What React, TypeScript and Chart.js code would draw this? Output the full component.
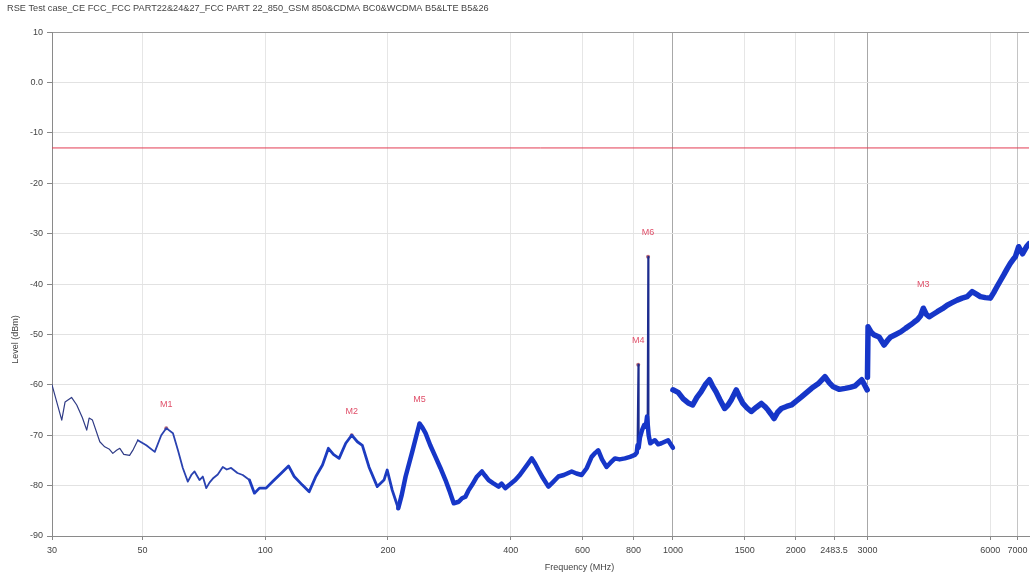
import React, { useEffect, useRef } from 'react';
import { Chart, registerables } from 'chart.js';

Chart.register(...registerables);

const chartTitle = 'RSE Test case_CE FCC_FCC PART22&24&27_FCC PART 22_850_GSM 850&CDMA BC0&WCDMA B5&LTE B5&26';
const xAxisTitle = 'Frequency (MHz)';
const yAxisTitle = 'Level (dBm)';

const xTickValues = [30, 50, 100, 200, 400, 600, 800, 1000, 1500, 2000, 2483.5, 3000, 6000, 7000];
const xTickLabels = ['30', '50', '100', '200', '400', '600', '800', '1000', '1500', '2000', '2483.5', '3000', '6000', '7000'];
const yTickValues = [10, 0, -10, -20, -30, -40, -50, -60, -70, -80, -90];
const yTickLabels = ['10', '0.0', '-10', '-20', '-30', '-40', '-50', '-60', '-70', '-80', '-90'];

const limitFreq = [30, 7470];
const limitLevel = [-13, -13];

// 30 - 49 MHz (thin trace)
const thinFreq = [30, 31.7, 32.3, 33.5, 34.5, 35.6, 36.5, 37.0, 37.7, 39.3, 40.4, 41.5, 42.3, 43.2, 44, 45, 46.5, 47.5, 48.7];
const thinLevel = [-60, -67, -63.4, -62.5, -64, -66.5, -69, -66.6, -67, -71.3, -72.3, -72.8, -73.6, -73, -72.6, -73.8, -74, -72.8, -71];

// 49 - 92 MHz
const midFreq = [48.7, 51.1, 53.6, 55.6, 57.2, 59.4, 61.1, 62.8, 64.6, 66, 67.1, 69, 70.3, 71.7, 73, 74.4, 76.5, 78.7, 80.5, 82.5, 85.5, 88.1, 91.5];
const midLevel = [-71, -72, -73.3, -70, -68.6, -69.6, -73, -76.5, -79.2, -77.8, -77.2, -78.9, -78.2, -80.5, -79.4, -78.6, -77.8, -76.3, -76.8, -76.5, -77.5, -77.9, -78.9];

// 92 - 212 MHz
const lowAFreq = [91.5, 94.1, 96.8, 100.5, 104.3, 109.3, 114.1, 117.8, 123.4, 128.2, 133.1, 138.2, 142.9, 147, 151.8, 157.6, 163, 168.3, 173.1, 179.7, 188.3, 195.6, 199.2, 204.9, 212];
const lowALevel = [-78.9, -81.5, -80.5, -80.5, -79.2, -77.6, -76.1, -78.2, -79.9, -81.2, -78.2, -75.9, -72.6, -73.8, -74.6, -71.6, -70, -71.3, -72, -76.3, -80.2, -78.9, -76.9, -80.9, -84.5];

// 212 - 1000 MHz
const lowBFreq = [212, 216, 221, 229.4, 235, 239.1, 243, 247.3, 254, 261.6, 269, 276.8, 283, 290, 298.3, 304, 309.8, 315, 321.5, 330, 340.1, 346, 353.2, 362, 373.6, 380, 388, 398, 410.5, 420, 430.1, 440, 450.7, 459, 468, 480, 495, 508, 523.8, 540, 564.6, 580, 597.2, 615, 631.8, 645, 656, 670, 687.2, 702, 720.8, 740, 762.5, 785, 806.6, 815, 819, 824, 830, 840, 850, 858, 864, 872, 880, 903, 920, 937, 955, 973, 991, 1000];
const lowBLevel = [-84.5, -82, -78.2, -73.3, -70, -67.7, -68.5, -69.6, -72, -74.3, -76.5, -78.9, -81, -83.5, -83.2, -82.5, -82.2, -81, -79.9, -78.3, -77.2, -78, -78.9, -79.5, -80.2, -79.6, -80.5, -79.8, -78.9, -78, -76.9, -75.8, -74.6, -75.6, -76.9, -78.5, -80.2, -79.3, -78.2, -77.9, -77.2, -77.6, -77.9, -76.5, -74.3, -73.5, -73, -74.8, -76.3, -75.5, -74.6, -74.8, -74.6, -74.3, -73.9, -73.5, -72, -72.5, -70.5, -69, -68, -68.3, -66.3, -70, -71.6, -71, -71.8, -71.6, -71.3, -71, -72, -72.5];

// narrow carrier spikes
const spikeFreq = [818, 822, 825, 845, 866, 869, 872];
const spikeLevel = [-72, -56, -71, null, -66.3, -34.6, -70];

// 1 - 3 GHz
const highAFreq = [1000, 1030, 1060, 1090, 1118, 1145, 1172, 1200, 1229, 1250, 1276, 1305, 1339, 1365, 1390, 1410, 1430, 1455, 1485, 1520, 1556, 1600, 1648, 1680, 1711, 1740, 1770, 1805, 1845, 1900, 1953, 2010, 2067, 2130, 2188, 2270, 2360, 2420, 2474, 2560, 2644, 2720, 2800, 2860, 2905, 2950, 2995];
const highALevel = [-61, -61.5, -62.8, -63.6, -64, -62.5, -61.4, -60, -59, -60.2, -61.4, -63, -64.7, -64, -63, -62, -61, -62.3, -63.7, -64.6, -65.3, -64.5, -63.7, -64.3, -65, -65.8, -66.7, -65.5, -64.7, -64.3, -64, -63.2, -62.4, -61.5, -60.7, -59.8, -58.4, -59.6, -60.4, -60.9, -60.7, -60.5, -60.2, -59.5, -59, -60, -61];

// 3 - 7.5 GHz
const highBFreq = [3000, 3010, 3060, 3115, 3204, 3295, 3360, 3421, 3520, 3619, 3720, 3829, 3900, 3976, 4050, 4113, 4180, 4248, 4350, 4450, 4580, 4706, 4840, 4980, 5120, 5268, 5418, 5550, 5675, 5840, 6005, 6120, 6237, 6360, 6477, 6600, 6722, 6820, 6915, 7047, 7200, 7380, 7470];
const highBLevel = [-58.5, -48.5, -49.5, -50.1, -50.5, -52.1, -51.2, -50.5, -50, -49.5, -48.8, -48.1, -47.6, -47.1, -46.3, -44.8, -46, -46.5, -46, -45.5, -44.9, -44.2, -43.7, -43.2, -42.8, -42.5, -41.5, -42, -42.5, -42.7, -42.8, -41.7, -40.5, -39.3, -38.2, -37, -35.9, -35.2, -34.6, -32.6, -34, -32.5, -32];

const markerNames = ['M1', 'M2', 'M5', 'M4', 'M6', 'M3'];
const markerFreq = [57.2, 163, 239.1, 822, 869, 4113];
const markerLevel = [-68.6, -70, -67.7, -56, -34.6, -44.8];

const FONT = '"Liberation Sans", Arial, sans-serif';

const pts = (xs: number[], ys: (number | null)[]) => xs.map((x, i) => ({ x, y: ys[i] }));

const traceSet = (label: string, xs: number[], ys: (number | null)[], color: string, width: number) => ({
  label,
  data: pts(xs, ys),
  borderColor: color,
  backgroundColor: color,
  borderWidth: width,
  pointRadius: 0,
  tension: 0,
  borderJoinStyle: 'round' as const,
  borderCapStyle: 'round' as const,
  spanGaps: false,
});

const extraText = {
  id: 'extraText',
  afterDatasetsDraw(chart: any) {
    const { ctx, chartArea } = chart;
    const xs = chart.scales.x;
    const ys = chart.scales.y;
    ctx.save();
    ctx.font = `9px ${FONT}`;
    ctx.textAlign = 'center';
    ctx.textBaseline = 'middle';
    ctx.fillStyle = '#e0506a';
    markerNames.forEach((n, i) => {
      const px = xs.getPixelForValue(markerFreq[i]);
      const py = ys.getPixelForValue(markerLevel[i]);
      ctx.fillText(n, px, py - 24);
    });
    ctx.fillStyle = '#444';
    ctx.fillText(xAxisTitle, chartArea.left + (chartArea.right - chartArea.left) * 0.54, chart.height - 15);
    ctx.translate(16, chartArea.top + (chartArea.bottom - chartArea.top) * 0.61);
    ctx.rotate(-Math.PI / 2);
    ctx.fillText(yAxisTitle, 0, 0);
    ctx.restore();
  },
};

export default function App() {
  const ref = useRef<HTMLCanvasElement | null>(null);
  useEffect(() => {
    if (!ref.current) return;
    const chart = new Chart(ref.current, {
      type: 'line',
      data: {
        datasets: [
          {
            ...traceSet('Limit', limitFreq, limitLevel, '#e23c52', 1),
            borderCapStyle: 'butt' as const,
          },
          traceSet('30-49', thinFreq, thinLevel, '#2f3b86', 1.2),
          traceSet('49-92', midFreq, midLevel, '#2a42b0', 1.8),
          traceSet('92-212', lowAFreq, lowALevel, '#1d3cc0', 2.8),
          traceSet('212-1000', lowBFreq, lowBLevel, '#1636c8', 4.5),
          traceSet('spikes', spikeFreq, spikeLevel, '#1c2c8e', 1.6),
          traceSet('1-3 GHz', highAFreq, highALevel, '#1636c8', 5.5),
          traceSet('3-7.5 GHz', highBFreq, highBLevel, '#1636c8', 5.5),
          {
            label: 'Markers',
            data: pts(markerFreq, markerLevel),
            showLine: false,
            pointRadius: 2,
            pointBorderWidth: 0,
            pointBackgroundColor: '#b86878',
            borderColor: '#b86878',
          } as any,
        ],
      },
      options: {
        animation: false,
        responsive: false,
        layout: { padding: { left: 7, right: 1, top: 0, bottom: 0 } },
        plugins: {
          legend: { display: false },
          tooltip: { enabled: false },
          title: {
            display: true,
            text: chartTitle,
            align: 'start',
            color: '#444',
            font: { family: FONT, size: 9.2, weight: 'normal' },
            padding: { top: 3, bottom: 18 },
          },
        },
        scales: {
          x: {
            type: 'logarithmic',
            min: 30,
            max: 7470,
            bounds: 'data',
            afterBuildTicks: (s: any) => {
              s.ticks = xTickValues.map((v) => ({ value: v }));
            },
            afterFit: (s: any) => {
              s.height = 47;
            },
            ticks: {
              autoSkip: false,
              maxRotation: 0,
              minRotation: 0,
              padding: 5,
              color: '#444',
              font: { family: FONT, size: 9 },
              callback: (v: any) => {
                const i = xTickValues.indexOf(Number(v));
                return i >= 0 ? xTickLabels[i] : '';
              },
            },
            grid: {
              drawTicks: true,
              tickLength: 4,
              tickColor: '#888',
              color: (c: any) => {
                const v = c.tick && c.tick.value;
                if (v === 1000 || v === 3000) return '#a8a8a8';
                if (v === 7000) return '#c4c4c4';
                return '#e6e6e6';
              },
            },
            border: { display: true, color: '#8a8a8a' },
          },
          y: {
            type: 'linear',
            min: -90,
            max: 10,
            afterBuildTicks: (s: any) => {
              s.ticks = yTickValues.map((v) => ({ value: v }));
            },
            afterFit: (s: any) => {
              s.width = 45;
            },
            ticks: {
              padding: 4,
              color: '#444',
              font: { family: FONT, size: 9 },
              callback: (v: any) => {
                const i = yTickValues.indexOf(Number(v));
                return i >= 0 ? yTickLabels[i] : '';
              },
            },
            grid: {
              drawTicks: true,
              tickLength: 5,
              tickColor: '#888',
              color: (c: any) => {
                const v = c.tick && c.tick.value;
                if (v === 10) return '#9a9a9a';
                return '#e2e2e2';
              },
            },
            border: { display: true, color: '#8a8a8a' },
          },
        },
      },
      plugins: [extraText],
    } as any);
    return () => chart.destroy();
  }, []);

  return (
    <div style={{ position: 'fixed', left: 0, top: 0, width: 1033, height: 583, background: '#fff' }}>
      <canvas ref={ref} width={1033} height={583} style={{ display: 'block' }} />
    </div>
  );
}
